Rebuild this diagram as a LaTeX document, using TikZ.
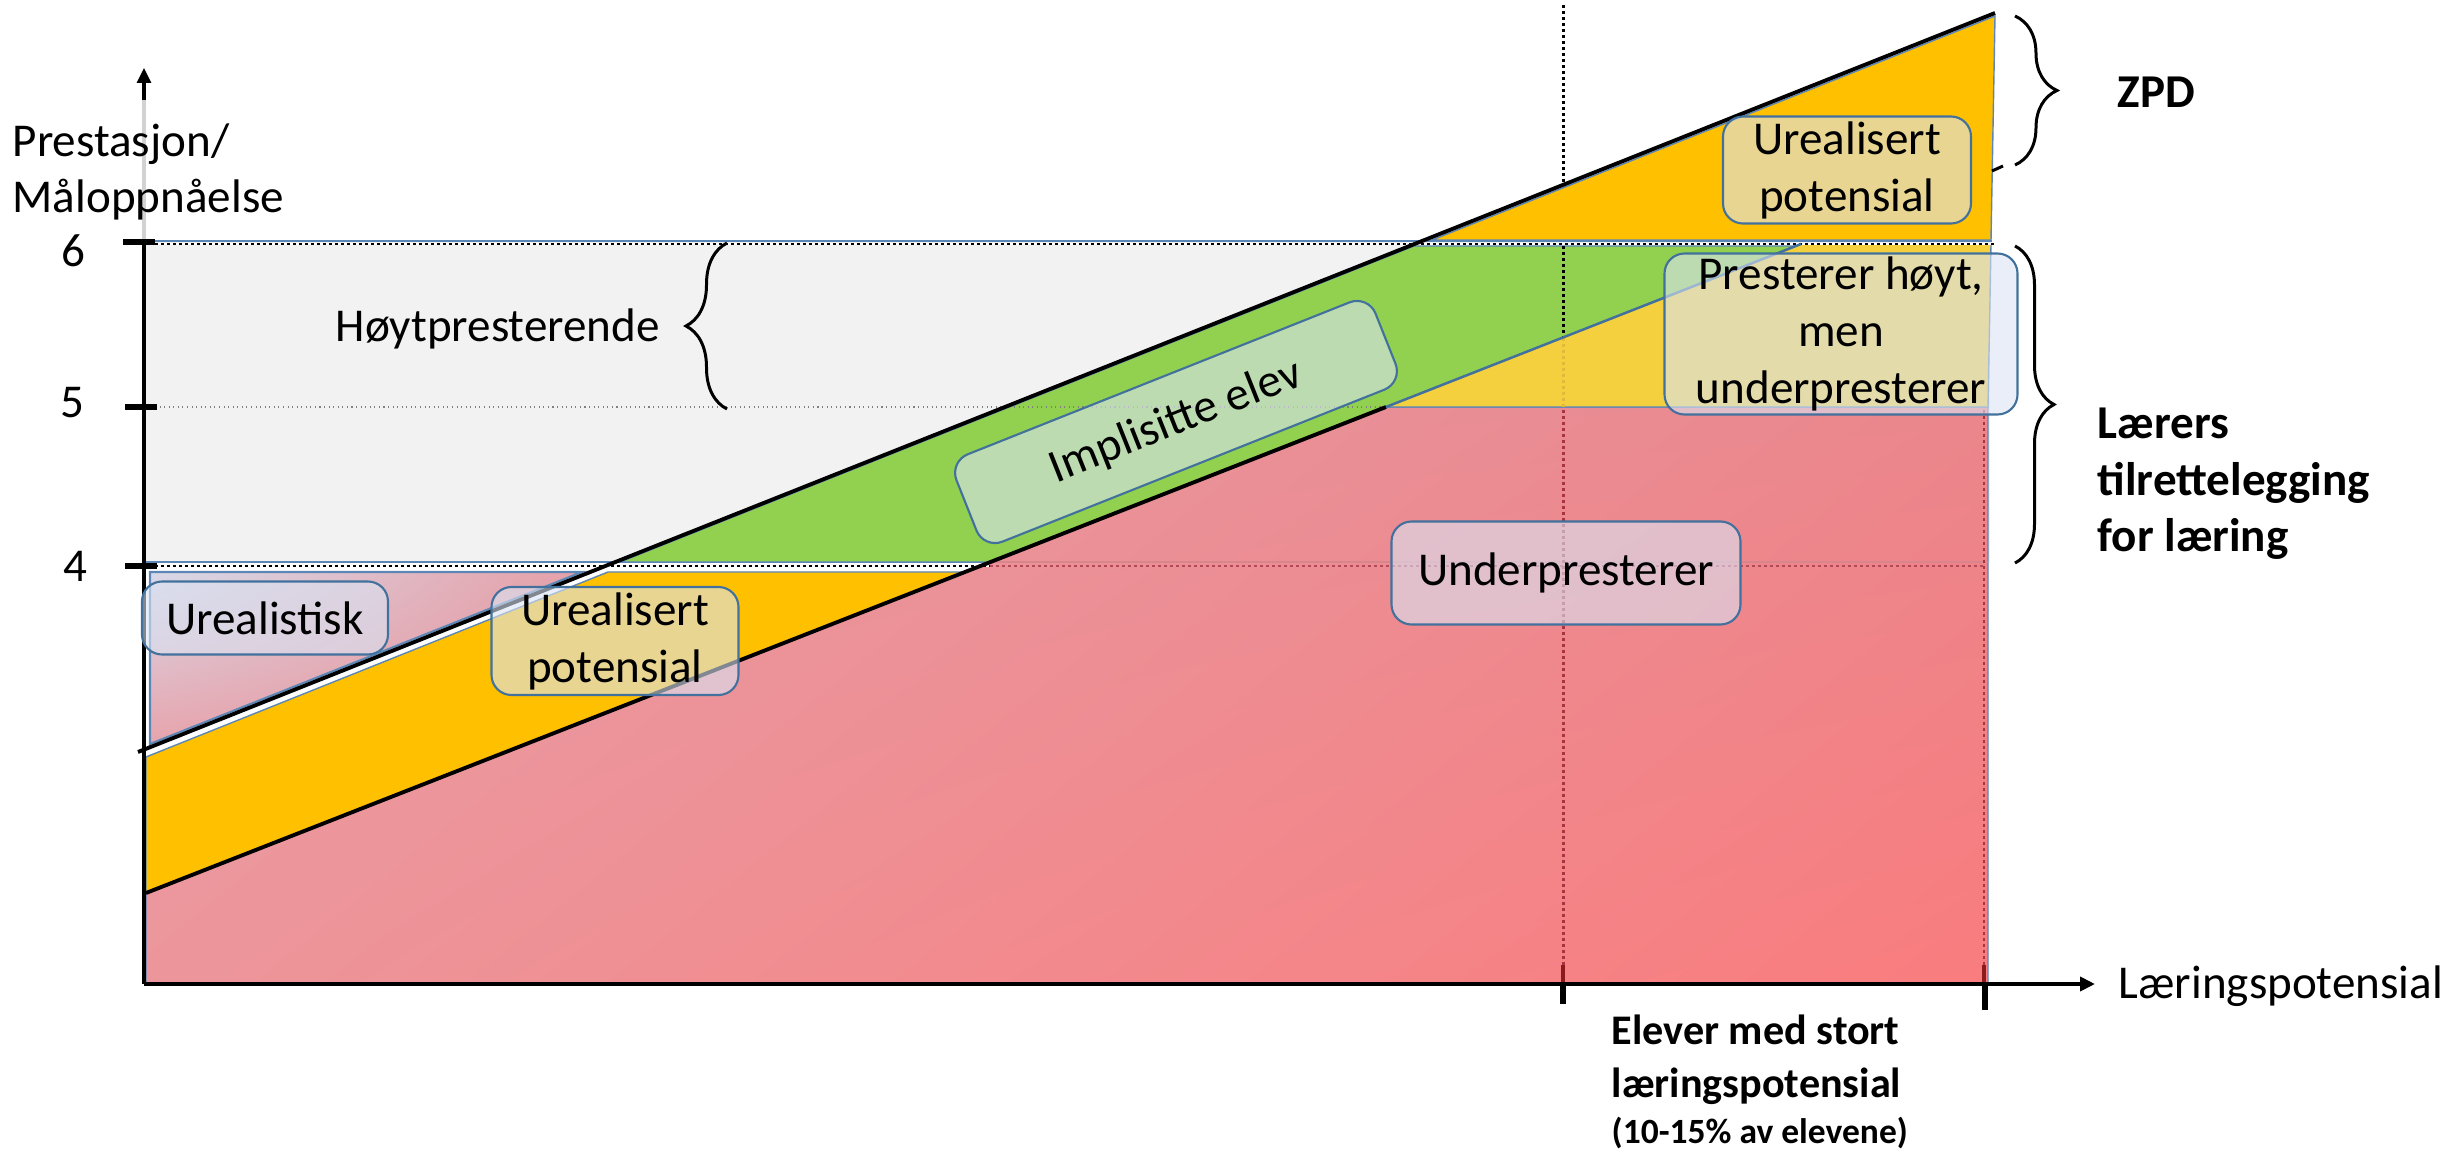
\documentclass[tikz,border=0pt]{standalone}
\usepackage{fontspec}
\setmainfont{Carlito}
\usetikzlibrary{arrows.meta,decorations.pathreplacing,positioning,shadings}

\definecolor{boxblue}{HTML}{41719C}
\definecolor{edgeblue}{HTML}{5B86B5}
\definecolor{greyfill}{HTML}{F2F2F2}
\definecolor{orangefill}{HTML}{FFC000}
\definecolor{greenfill}{HTML}{92D050}
\definecolor{yellowfill}{HTML}{F5D03E}
\definecolor{boxfill}{HTML}{DAE3F3}
\definecolor{darkred}{HTML}{8B1A1A}
\definecolor{dotred}{HTML}{A83440}
\definecolor{levelred}{HTML}{B44A58}
\definecolor{linered}{HTML}{D8858C}
\definecolor{dotyellow}{HTML}{E2B93A}
\definecolor{redUL}{HTML}{E7A0AA}
\definecolor{redUR}{HTML}{EA868C}
\definecolor{redLL}{HTML}{EC969B}
\definecolor{redLR}{HTML}{F97C7E}
\definecolor{pinkUL}{HTML}{D7D9E9}
\definecolor{pinkUR}{HTML}{E6A0A8}
\definecolor{pinkLL}{HTML}{E7A4AC}
\definecolor{pinkLR}{HTML}{E8949C}

\tikzset{
  txt/.style={font=\fontsize{13.4}{16.2}\selectfont, inner sep=0pt},
  boldtxt/.style={font=\fontsize{13.4}{16.2}\selectfont\bfseries, inner sep=0pt, align=left},
  bubble/.style={draw=boxblue, line width=0.6pt, fill=boxfill, fill opacity=0.6,
    text opacity=1, rounded corners=2mm, align=center, inner sep=0pt,
    font=\fontsize{13.4}{16.2}\selectfont},
  band/.style={draw=edgeblue, line width=0.4pt},
  dotline/.style={line width=0.85pt, dash pattern=on 0.3mm off 0.3mm},
  axtick/.style={line width=1.7pt},
  limit/.style={line width=1.1pt},
  curly/.style={decorate, decoration={brace, amplitude=#1}, line width=0.85pt},
}

\begin{document}
\begin{tikzpicture}[x=0.1mm, y=-0.1mm]
  \useasboundingbox (0,0) rectangle (2445,1154);

  % grey band between 4 and 6
  \fill[greyfill] (145,242) rectangle (1990,563);
  \draw[band] (145,241) -- (1992,241);
  \draw[band] (145,562) -- (990,562);

  % red areas
  \shadedraw[band, upper left=redUL, upper right=redUR, lower left=redLL, lower right=redLR]
    (146,893) -- (1386,407) -- (1988,407) -- (1988,983) -- (146,983) -- cycle;
  \shadedraw[band, line width=0.6pt, upper left=pinkUL, upper right=pinkUR, lower left=pinkLL, lower right=pinkLR]
    (150,572) -- (582,572) -- (150,744) -- cycle;

  % bands
  \filldraw[band, fill=orangefill] (146,757) -- (608,572) -- (965,572) -- (146,893) -- cycle;
  \filldraw[band, fill=greenfill] (620,562) -- (1414,246) -- (1796,246) -- (990,562) -- cycle;
  \filldraw[band, fill=orangefill] (1432,240) -- (1995,16) -- (1991,240) -- cycle;
  \filldraw[band, fill=yellowfill] (1386,407) -- (1801,244) -- (1991,244) -- (1988,407) -- cycle;

  % levels
  \draw[white, line width=0.85pt] (145,244) -- (1995,244);
  \draw[dotline] (155,244) -- (1995,244);
  \draw[white, line width=0.85pt] (145,566) -- (990,566);
  \draw[dotline] (155,566) -- (990,566);
  \draw[linered, line width=0.4pt] (990,562) -- (1988,562);
  \draw[dotline, draw=levelred] (990,566) -- (1985,566);
  \draw[gray, line width=0.3pt, densely dotted] (155,407) -- (1386,407);

  % vertical markers
  \draw[dotline] (1563,5) -- (1563,185);
  \draw[dotline] (1563,246) -- (1563,338);
  \draw[dotline, draw=dotyellow] (1563,338) -- (1563,407);
  \draw[dotline, draw=dotred] (1563,410) -- (1563,965);
  \draw[darkred, line width=1.1pt] (1563,965) -- (1563,983);
  \draw[dotline, draw=dotred, line width=0.5pt] (1984,410) -- (1984,965);
  \draw[darkred, line width=1.1pt] (1984,965) -- (1984,983);

  % limits
  \draw[limit] (138,752) -- (1995,13);
  \draw[limit] (146,893) -- (1386,407);
  \draw[boxblue, line width=0.7pt] (1386,407) -- (1801,244);

  % axes
  \draw[limit] (144,243) -- (144,984);
  \draw[gray!35, line width=1.1pt] (144,100) -- (144,243);
  \draw[-{Triangle[length=1.5mm,width=1.4mm]}, line width=0.9pt] (144,100) -- (144,68);
  \draw[-{Triangle[length=1.5mm,width=1.4mm]}, limit] (144,984) -- (2095,984);
  \draw[axtick] (123,242) -- (155,242);
  \draw[axtick] (125,407) -- (157,407);
  \draw[axtick] (125,566) -- (157,566);
  \draw[axtick] (1563,984) -- (1563,1004);
  \draw[axtick] (1985,984) -- (1985,1010);

  \node[txt, anchor=base] (six) at (73,267) {6};
  \node[txt, anchor=base] (five) at (72,418) {5};
  \node[txt, anchor=base] (four) at (75,582) {4};
  \node[txt, anchor=base west, align=left] (ylab) at (12,213) {Prestasjon/\\Måloppnåelse};
  \node[txt, anchor=base west] (xlab) at (2118,998) {Læringspotensial};

  % boxes
  \node[bubble, minimum width=24.6mm, minimum height=7.3mm] (urealistisk) at (265,618) {Urealistisk};
  \node[bubble, minimum width=24.7mm, minimum height=10.8mm] (urealA) at (615,641) {Urealisert\\potensial};
  \node[bubble, minimum width=24.8mm, minimum height=10.7mm] (urealB) at (1847,170) {Urealisert\\potensial};
  \node[bubble, minimum width=35.3mm, minimum height=16.1mm] (presterer) at (1841,334) {Presterer høyt,\\men\\underpresterer};
  \node[bubble, minimum width=34.9mm, minimum height=10.3mm] (under) at (1566,573) {Underpresterer};
  \node[bubble, minimum width=45.1mm, minimum height=9.4mm, rotate=21.7] (implisitt) at (1176,422) {Implisitte elev};

  % braces and labels
  \draw[curly=4.1mm] (727,409) -- (727,243);
  \node[txt, anchor=base west] (hoy) at (335,342) {Høytpresterende};
  \draw[curly=4.2mm] (2015,16) -- (2015,165);
  \draw[line width=0.85pt] (1992,171) -- (2003,166);
  \node[boldtxt, anchor=base west] (zpd) at (2117,108) {ZPD};
  \draw[curly=3.9mm] (2015,246) -- (2015,563);
  \node[boldtxt, anchor=base west] (laerer) at (2097,552) {Lærers\\tilrettelegging\\for læring};
  \node[boldtxt, font=\fontsize{12}{14.8}\selectfont\bfseries, anchor=base west] (elever) at (1611,1097) {Elever med stort\\læringspotensial};
  \node[boldtxt, font=\fontsize{10.1}{12}\selectfont\bfseries, anchor=base west] (andel) at (1611,1143) {(10-15\% av elevene)};
\end{tikzpicture}
\end{document}
